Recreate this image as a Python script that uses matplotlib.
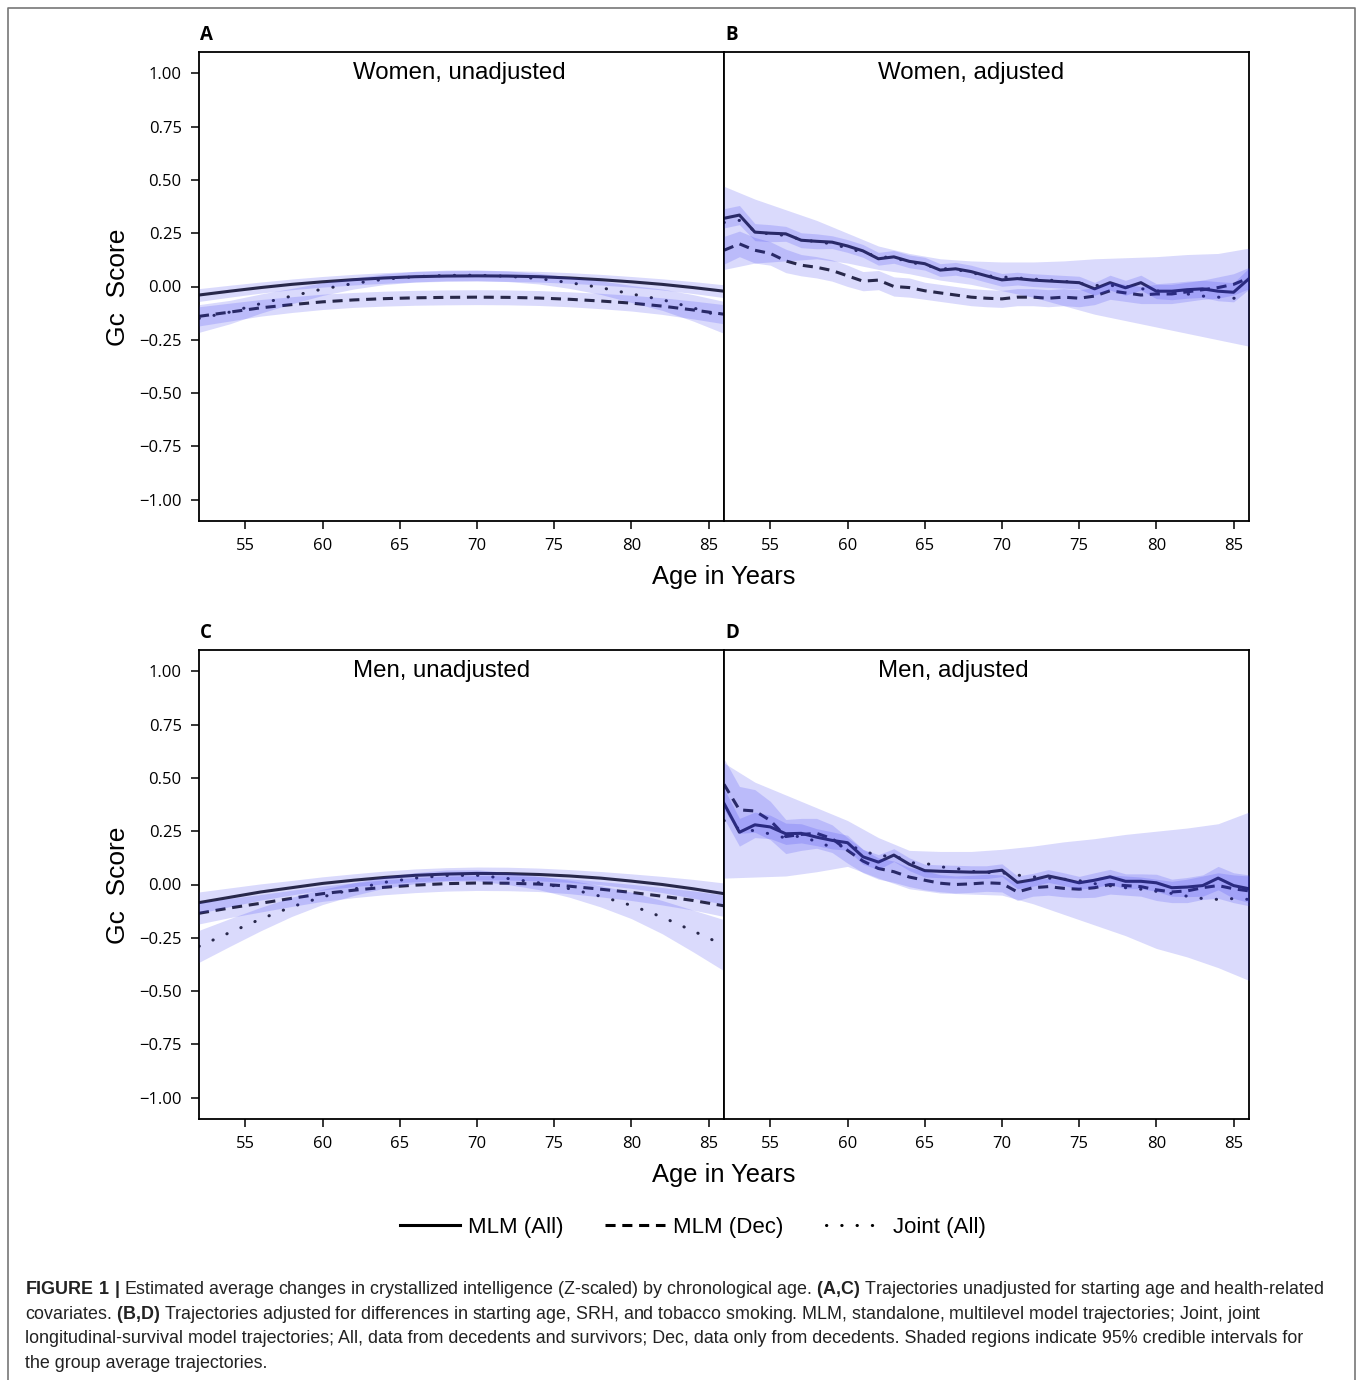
import matplotlib.pyplot as plt
from matplotlib.lines import Line2D

plt.rcParams['mathtext.fontset'] = 'custom'
plt.rcParams['mathtext.rm'] = 'Liberation Sans'
plt.rcParams['mathtext.bf'] = 'Liberation Sans:bold'

# ages: smooth fits (A, C) read every 2 years, adjusted fits (B, D) every year
fit_ages = [52, 54, 56, 58, 60, 62, 64, 66, 68, 70, 72, 74, 76, 78, 80, 82, 84, 86]
year_ages = list(range(52, 87))
band_ages = fit_ages

# A: women, unadjusted
a_mlm_all = [-0.040, -0.022, -0.005, 0.010, 0.022, 0.032, 0.040, 0.046, 0.049, 0.050, 0.049, 0.046, 0.040, 0.032, 0.022, 0.010, -0.005, -0.022]
a_mlm_dec = [-0.140, -0.120, -0.100, -0.085, -0.072, -0.063, -0.057, -0.053, -0.051, -0.050, -0.051, -0.054, -0.060, -0.068, -0.078, -0.092, -0.110, -0.130]
a_joint = [-0.150, -0.120, -0.080, -0.045, -0.012, 0.014, 0.034, 0.046, 0.052, 0.053, 0.048, 0.037, 0.018, -0.005, -0.035, -0.062, -0.100, -0.145]
a_mlm_all_hw = [0.030, 0.028, 0.026, 0.025, 0.025, 0.025, 0.025, 0.025, 0.025, 0.025, 0.025, 0.025, 0.025, 0.025, 0.025, 0.026, 0.028, 0.030]
a_mlm_dec_hw = [0.045, 0.042, 0.039, 0.037, 0.036, 0.035, 0.035, 0.035, 0.035, 0.035, 0.035, 0.035, 0.035, 0.036, 0.037, 0.039, 0.042, 0.045]
a_joint_hw = [0.065, 0.055, 0.045, 0.036, 0.030, 0.026, 0.025, 0.025, 0.025, 0.025, 0.025, 0.025, 0.027, 0.032, 0.040, 0.050, 0.062, 0.075]

# C: men, unadjusted
c_mlm_all = [-0.085, -0.060, -0.035, -0.015, 0.005, 0.020, 0.033, 0.043, 0.049, 0.052, 0.051, 0.047, 0.040, 0.030, 0.016, 0.000, -0.020, -0.043]
c_mlm_dec = [-0.135, -0.110, -0.088, -0.065, -0.043, -0.027, -0.013, -0.003, 0.004, 0.007, 0.006, 0.002, -0.008, -0.022, -0.037, -0.055, -0.075, -0.100]
c_joint = [-0.290, -0.225, -0.162, -0.105, -0.058, -0.022, 0.010, 0.030, 0.042, 0.043, 0.028, 0.008, -0.020, -0.055, -0.098, -0.153, -0.218, -0.285]
c_mlm_all_hw = [0.050, 0.044, 0.038, 0.034, 0.031, 0.030, 0.030, 0.030, 0.030, 0.030, 0.030, 0.030, 0.030, 0.031, 0.034, 0.038, 0.044, 0.050]
c_mlm_dec_hw = [0.050, 0.045, 0.041, 0.038, 0.036, 0.035, 0.035, 0.035, 0.035, 0.035, 0.035, 0.035, 0.035, 0.036, 0.038, 0.041, 0.045, 0.050]
c_joint_hw = [0.075, 0.065, 0.055, 0.045, 0.036, 0.030, 0.027, 0.026, 0.026, 0.026, 0.028, 0.032, 0.040, 0.050, 0.062, 0.078, 0.098, 0.120]

# B: women, adjusted
b_mlm_all = [0.320, 0.335, 0.255, 0.250, 0.247, 0.217, 0.212, 0.208, 0.190, 0.167, 0.130, 0.139, 0.118, 0.107, 0.077, 0.083, 0.070, 0.050,
             0.031, 0.037, 0.030, 0.026, 0.022, 0.018, -0.011, 0.018, -0.006, 0.018, -0.022, -0.022, -0.015, -0.011, -0.022, -0.027, 0.037]
b_mlm_dec = [0.170, 0.200, 0.170, 0.155, 0.120, 0.100, 0.090, 0.075, 0.050, 0.025, 0.030, 0.000, -0.005, -0.020, -0.030, -0.040, -0.050, -0.055,
             -0.058, -0.050, -0.050, -0.055, -0.050, -0.055, -0.045, -0.020, -0.030, -0.040, -0.035, -0.035, -0.025, -0.015, -0.005, 0.010, 0.040]
b_joint = [0.300, 0.310, 0.260, 0.245, 0.240, 0.220, 0.210, 0.200, 0.180, 0.160, 0.140, 0.135, 0.115, 0.100, 0.085, 0.080, 0.065, 0.050,
           0.045, 0.040, 0.035, 0.030, 0.025, 0.015, 0.005, 0.005, 0.000, -0.010, -0.020, -0.030, -0.035, -0.045, -0.050, -0.055, -0.060]
b_mlm_all_hw = [0.045, 0.045, 0.040, 0.040, 0.035, 0.035, 0.035, 0.030, 0.030, 0.030, 0.030, 0.030, 0.030, 0.030, 0.030, 0.030, 0.030, 0.030,
                0.030, 0.030, 0.030, 0.030, 0.030, 0.030, 0.030, 0.035, 0.035, 0.035, 0.035, 0.040, 0.040, 0.040, 0.045, 0.045, 0.050]
b_mlm_dec_hw = [0.065, 0.060, 0.060, 0.055, 0.055, 0.050, 0.050, 0.050, 0.050, 0.045, 0.045, 0.045, 0.045, 0.040, 0.040, 0.040, 0.040, 0.040,
                0.040, 0.040, 0.040, 0.040, 0.040, 0.040, 0.040, 0.040, 0.040, 0.040, 0.045, 0.045, 0.045, 0.045, 0.050, 0.050, 0.050]
b_joint_lo = [0.080, 0.110, 0.120, 0.130, 0.110, 0.080, 0.060, 0.030, 0.010, -0.020, -0.050, -0.090, -0.130, -0.160, -0.190, -0.220, -0.250, -0.280]
b_joint_hi = [0.470, 0.410, 0.360, 0.310, 0.250, 0.190, 0.155, 0.130, 0.120, 0.115, 0.115, 0.120, 0.130, 0.135, 0.140, 0.150, 0.155, 0.180]

# D: men, adjusted
d_mlm_all = [0.380, 0.245, 0.280, 0.270, 0.238, 0.240, 0.222, 0.207, 0.196, 0.130, 0.105, 0.138, 0.095, 0.065, 0.062, 0.060, 0.058, 0.058,
             0.067, 0.010, 0.022, 0.040, 0.025, 0.008, 0.020, 0.036, 0.015, 0.015, 0.008, -0.015, -0.012, -0.005, 0.030, -0.005, -0.020]
d_mlm_dec = [0.470, 0.350, 0.345, 0.300, 0.225, 0.235, 0.240, 0.215, 0.160, 0.110, 0.075, 0.060, 0.035, 0.020, 0.006, 0.000, 0.003, 0.008,
             0.005, -0.035, -0.015, -0.010, -0.018, -0.022, -0.015, 0.000, -0.005, -0.010, -0.025, -0.035, -0.030, -0.015, -0.005, -0.020, -0.030]
d_joint = [0.300, 0.260, 0.252, 0.237, 0.218, 0.228, 0.200, 0.175, 0.185, 0.160, 0.132, 0.138, 0.102, 0.100, 0.083, 0.076, 0.062, 0.056,
           0.055, 0.044, 0.036, 0.030, 0.025, 0.018, 0.004, -0.006, -0.015, -0.022, -0.032, -0.042, -0.055, -0.066, -0.070, -0.066, -0.070]
d_mlm_all_hw = [0.070, 0.065, 0.060, 0.055, 0.050, 0.045, 0.040, 0.040, 0.035, 0.035, 0.035, 0.030, 0.030, 0.030, 0.030, 0.030, 0.030, 0.030,
                0.030, 0.030, 0.030, 0.030, 0.030, 0.030, 0.035, 0.035, 0.035, 0.035, 0.040, 0.040, 0.045, 0.050, 0.055, 0.060, 0.065]
d_mlm_dec_hw = [0.120, 0.110, 0.100, 0.090, 0.080, 0.075, 0.070, 0.065, 0.060, 0.055, 0.050, 0.050, 0.045, 0.045, 0.040, 0.040, 0.040, 0.040,
                0.040, 0.040, 0.040, 0.040, 0.040, 0.040, 0.045, 0.045, 0.045, 0.045, 0.050, 0.050, 0.055, 0.055, 0.060, 0.065, 0.070]
d_joint_lo = [0.030, 0.035, 0.040, 0.060, 0.085, 0.030, -0.020, -0.040, -0.045, -0.050, -0.090, -0.140, -0.190, -0.240, -0.300, -0.340, -0.390, -0.450]
d_joint_hi = [0.570, 0.480, 0.420, 0.360, 0.300, 0.220, 0.160, 0.155, 0.155, 0.165, 0.180, 0.200, 0.215, 0.235, 0.250, 0.265, 0.285, 0.340]

titles = ["Women, unadjusted", "Women, adjusted", "Men, unadjusted", "Men, adjusted"]
letters = ["A", "B", "C", "D"]
legend_labels = ["MLM (All)", "MLM (Dec)", "Joint (All)"]
xticks = [55, 60, 65, 70, 75, 80, 85]
yticks = [-1.0, -0.75, -0.5, -0.25, 0.0, 0.25, 0.5, 0.75, 1.0]

band_color = (0.2, 0.2, 0.95)
line_color = "#262626"
styles = [
    dict(linestyle="-"),
    dict(linestyle=(0, (3.3, 2.2))),
    dict(linestyle=(0, (0.1, 4.9)), dash_capstyle="round"),
]
tick_font = "Open Sans"
label_font = "Liberation Sans"


def lo_hi(center, hw):
    return [c - h for c, h in zip(center, hw)], [c + h for c, h in zip(center, hw)]


W, H = 1358, 1380
fig = plt.figure(figsize=(W / 100, H / 100), dpi=100)

panels = [
    (a_mlm_all, a_mlm_dec, a_joint, fit_ages,
     [(fit_ages, *lo_hi(a_mlm_all, a_mlm_all_hw)), (fit_ages, *lo_hi(a_mlm_dec, a_mlm_dec_hw)), (fit_ages, *lo_hi(a_joint, a_joint_hw))]),
    (b_mlm_all, b_mlm_dec, b_joint, year_ages,
     [(year_ages, *lo_hi(b_mlm_all, b_mlm_all_hw)), (year_ages, *lo_hi(b_mlm_dec, b_mlm_dec_hw)), (band_ages, b_joint_lo, b_joint_hi)]),
    (c_mlm_all, c_mlm_dec, c_joint, fit_ages,
     [(fit_ages, *lo_hi(c_mlm_all, c_mlm_all_hw)), (fit_ages, *lo_hi(c_mlm_dec, c_mlm_dec_hw)), (fit_ages, *lo_hi(c_joint, c_joint_hw))]),
    (d_mlm_all, d_mlm_dec, d_joint, year_ages,
     [(year_ages, *lo_hi(d_mlm_all, d_mlm_all_hw)), (year_ages, *lo_hi(d_mlm_dec, d_mlm_dec_hw)), (band_ages, d_joint_lo, d_joint_hi)]),
]

# axes boxes in pixels: left, top
boxes = [(199, 52), (724, 52), (199, 650), (724, 650)]
aw, ah = 525, 469

for i, (box, panel) in enumerate(zip(boxes, panels)):
    left, top = box
    ax = fig.add_axes([left / W, 1 - (top + ah) / H, aw / W, ah / H])
    all_v, dec_v, joint_v, x, bands = panel
    for vals, st in zip([all_v, dec_v, joint_v], styles):
        ax.plot(x, vals, color=line_color, lw=2.2, zorder=2, **st)
    for bx, lo, hi in bands:
        ax.fill_between(bx, lo, hi, color=band_color, alpha=0.18, lw=0, zorder=3)

    ax.set_xlim(52, 86)
    ax.set_ylim(-1.1, 1.1)
    ax.set_xticks(xticks)
    ax.set_xticklabels([str(t) for t in xticks], fontfamily=tick_font, fontsize=12)
    if i % 2 == 0:
        ax.set_yticks(yticks)
        ax.set_yticklabels(["%.2f" % t if t >= 0 else "\u2212%.2f" % -t for t in yticks],
                           fontfamily=tick_font, fontsize=12)
        fig.text(118 / W, 1 - (top + 235) / H, "Gc  Score", rotation=90, ha="center", va="center",
                 fontfamily=label_font, fontsize=19)
    else:
        ax.set_yticks([])
    ax.tick_params(direction="out", length=5.5, width=1.1, pad=7)
    for s in ax.spines.values():
        s.set_linewidth(1.3)
    ax.text(0.293, 0.955, titles[i], transform=ax.transAxes, ha="left", va="center",
            fontfamily=label_font, fontsize=17.3)
    fig.text((left + 1) / W, 1 - (top - 17) / H, letters[i], ha="left", va="center",
             fontfamily=tick_font, fontweight="bold", fontsize=13.5)

for yc in [577, 1175]:
    fig.text(724 / W, 1 - yc / H, "Age in Years", ha="center", va="center",
             fontfamily=label_font, fontsize=18.4)

handles = [Line2D([], [], color="black", lw=2.2, **st) for st in styles]
fig.legend(handles, legend_labels, loc="center", bbox_to_anchor=(693 / W, 1 - 1227 / H),
           ncol=3, frameon=False, handlelength=2.7, handletextpad=0.35, columnspacing=1.9,
           prop=dict(family=label_font, size=16))

caption = [
    r"$\mathbf{FIGURE\ 1\ |}$ Estimated average changes in crystallized intelligence (Z-scaled) by chronological age. "
    r"$\mathbf{(A{,}C)}$ Trajectories unadjusted for starting age and health-related",
    r"covariates. $\mathbf{(B{,}D)}$ Trajectories adjusted for differences in starting age, SRH, and tobacco smoking. "
    r"MLM, standalone, multilevel model trajectories; Joint, joint",
    "longitudinal-survival model trajectories; All, data from decedents and survivors; Dec, data only from decedents. "
    "Shaded regions indicate 95% credible intervals for",
    "the group average trajectories.",
]
for k, line in enumerate(caption):
    fig.text(25 / W, 1 - (1294 + 24.7 * k) / H, line, ha="left", va="baseline",
             fontfamily=label_font, fontsize=12.9, color="#222222")

# outer frame (left, top, right)
fx0, fx1, fy0 = 8 / W, 1355 / W, 1 - 8 / H
fig.add_artist(Line2D([fx0, fx0, fx1, fx1], [0, fy0, fy0, 0], color="#777777", lw=1.2))

fig.savefig("out.png", dpi=100)
